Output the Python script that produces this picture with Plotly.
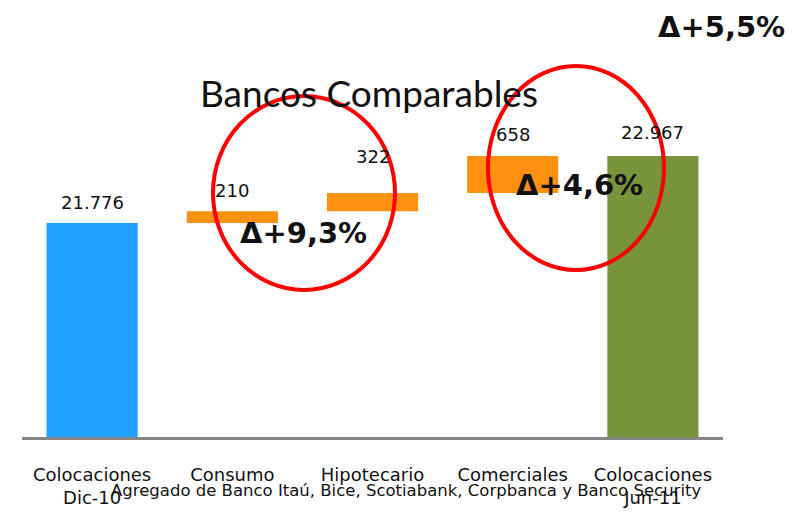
import plotly.graph_objects as go

# ---- data ----
categories = ["Colocaciones<br>Dic-10", "Consumo", "Hipotecario", "Comerciales", "Colocaciones<br>Jun-11"]
values = [21776, 210, 322, 658, 22967]
kinds = ["total", "delta", "delta", "delta", "total"]
bar_colors = ["#1FA0FF", "#FF9010", "#FF9010", "#FF9010", "#77933C"]
title_text = "Bancos Comparables"
footnote = "Agregado de Banco Itaú, Bice, Scotiabank, Corpbanca y Banco Security"
delta_labels = ["Δ+9,3%", "Δ+4,6%", "Δ+5,5%"]

# ---- derived bases for the waterfall ----
bases, tops = [], []
running = 0
for v, k in zip(values, kinds):
    if k == "total":
        bases.append(0)
        running = v
        tops.append(v)
    else:
        bases.append(running)
        running += v
        tops.append(running)

W, H = 803, 512
OFF = 8  # page body margin
# plot area in screen pixels: x 22..723, y 40..437
L = 22 - OFF
R = W - (723 - OFF)
T = 40 - OFF
B = H - (437 - OFF)
PW, PH = W - L - R, H - T - B


def px(x):
    return (x - OFF - L) / PW


def py(y):
    return (H - B - (y - OFF)) / PH


fig = go.Figure()
fig.add_trace(go.Bar(
    x=list(range(len(categories))),
    y=values,
    base=bases,
    marker=dict(color=bar_colors, line=dict(width=0)),
    hoverinfo="skip",
))

label_shift = [20, 21, 37, 22, 23]
annotations = []
for i, (v, t) in enumerate(zip(values, tops)):
    annotations.append(dict(
        x=i, y=t, xref="x", yref="y", text=f"{v:,}".replace(",", "."),
        showarrow=False, yanchor="middle", yshift=label_shift[i],
        font=dict(family="DejaVu Sans", size=18, color="#111111"),
    ))

delta_pos = [(303, 233), (579, 185), (721, 27)]
for txt, (cx, cy) in zip(delta_labels, delta_pos):
    annotations.append(dict(
        x=px(cx), y=py(cy), xref="paper", yref="paper", text=f"<b>{txt}</b>",
        showarrow=False, xanchor="center", yanchor="middle",
        font=dict(family="DejaVu Sans", size=29, color="#111111"),
    ))

annotations.append(dict(
    x=px(406), y=py(490), xref="paper", yref="paper", text=footnote,
    showarrow=False, xanchor="center", yanchor="middle",
    font=dict(family="DejaVu Sans", size=16.5, color="#111111"),
))
annotations.append(dict(
    x=px(369), y=py(92), xref="paper", yref="paper", text=title_text,
    showarrow=False, xanchor="center", yanchor="middle",
    font=dict(family="Lato", size=37, color="#111111"),
))

shapes = []
for (x0, y0, x1, y1) in [(213, 96, 395, 290), (488, 66, 664, 270)]:
    shapes.append(dict(
        type="circle", xref="paper", yref="paper",
        x0=px(x0), x1=px(x1), y0=py(y1), y1=py(y0),
        line=dict(color="#FF0000", width=4), layer="above",
    ))

ymin = 17970
units_per_px = 17.78
ymax = ymin + PH * units_per_px

fig.update_layout(
    width=W, height=H,
    margin=dict(l=L, r=R, t=T, b=B, pad=0, autoexpand=False),
    paper_bgcolor="white", plot_bgcolor="white",
    showlegend=False,
    bargap=0.35,
    annotations=annotations,
    shapes=shapes,
    xaxis=dict(
        tickmode="array", tickvals=list(range(len(categories))), ticktext=categories,
        range=[-0.5, len(categories) - 0.5],
        showline=True, linecolor="#868686", linewidth=3,
        showgrid=False, zeroline=False, ticks="",
        automargin=False,
        ticklabelstandoff=19,
        tickfont=dict(family="DejaVu Sans", size=18, color="#111111"),
    ),
    yaxis=dict(range=[ymin, ymax], visible=False, showgrid=False, zeroline=False, automargin=False),
)

fig.write_html("out.html")
